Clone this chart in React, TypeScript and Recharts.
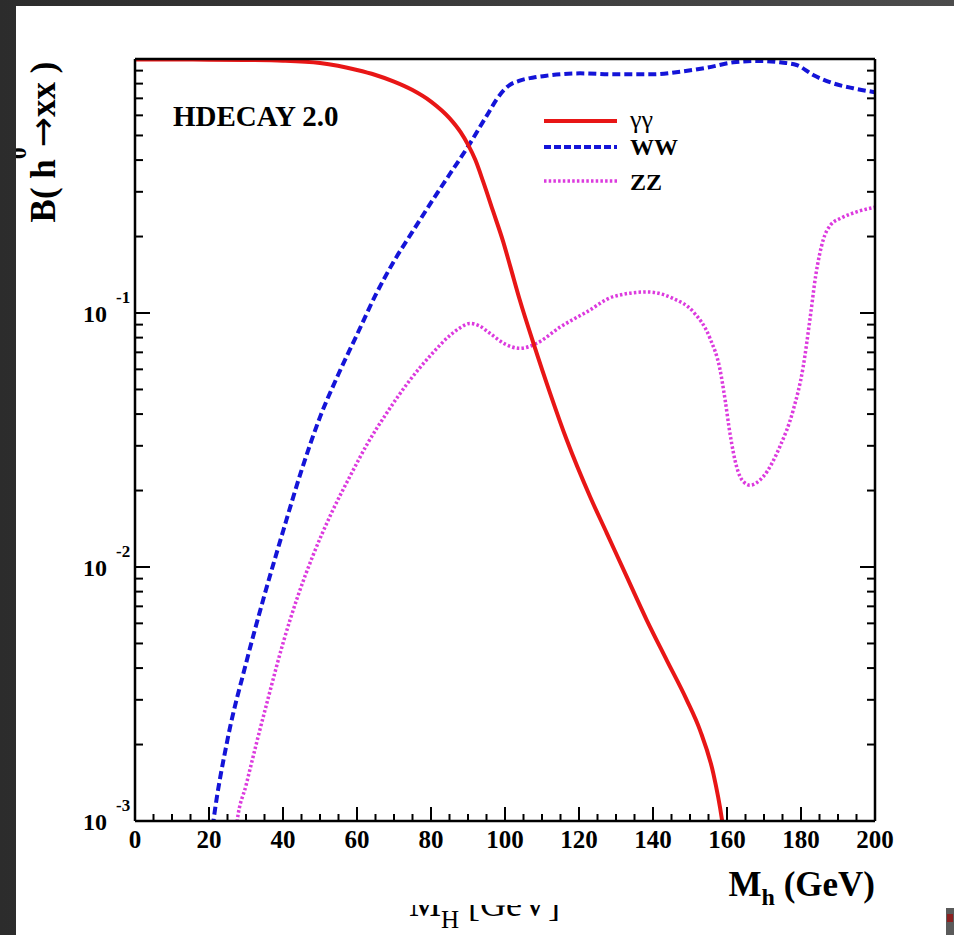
import { LineChart, Line, XAxis, YAxis } from 'recharts';

const SERIF = '"Liberation Serif", "DejaVu Serif", serif';

// branching ratios (M_h in GeV, B)
const gammaGamma = [
  { m: 0, b: 0.995 }, { m: 10, b: 0.995 }, { m: 20, b: 0.994 }, { m: 30, b: 0.991 },
  { m: 40, b: 0.985 }, { m: 50, b: 0.964 }, { m: 60, b: 0.905 }, { m: 65, b: 0.865 },
  { m: 70, b: 0.815 }, { m: 75, b: 0.755 }, { m: 80, b: 0.68 }, { m: 85, b: 0.585 },
  { m: 88, b: 0.515 }, { m: 90, b: 0.46 }, { m: 92, b: 0.4 }, { m: 94.1, b: 0.329 },
  { m: 96.8, b: 0.251 }, { m: 99.5, b: 0.191 }, { m: 101.4, b: 0.153 }, { m: 104, b: 0.1125 },
  { m: 107.7, b: 0.076 }, { m: 112.2, b: 0.0483 }, { m: 116.7, b: 0.0316 }, { m: 123, b: 0.0189 },
  { m: 127.5, b: 0.0136 }, { m: 132.9, b: 0.00916 }, { m: 138.3, b: 0.00618 }, { m: 143.7, b: 0.0043 },
  { m: 149.1, b: 0.003 }, { m: 152.7, b: 0.00228 }, { m: 156.3, b: 0.00154 }, { m: 158.6, b: 0.00102 },
  { m: 158.9, b: 0.00095 },
];

const wwPoints = [
  { m: 21, b: 0.00095 }, { m: 21.2, b: 0.001 }, { m: 25, b: 0.00209 }, { m: 30, b: 0.00417 },
  { m: 35, b: 0.00776 }, { m: 40, b: 0.0138 }, { m: 45, b: 0.024 }, { m: 50, b: 0.0389 },
  { m: 55, b: 0.0575 }, { m: 60, b: 0.0822 }, { m: 65, b: 0.1175 }, { m: 70, b: 0.16 },
  { m: 75, b: 0.209 }, { m: 80, b: 0.272 }, { m: 85, b: 0.351 }, { m: 90, b: 0.452 },
  { m: 95, b: 0.596 }, { m: 98.6, b: 0.722 }, { m: 101, b: 0.785 }, { m: 104, b: 0.822 },
  { m: 108, b: 0.847 }, { m: 111.3, b: 0.86 }, { m: 120.3, b: 0.878 }, { m: 129.3, b: 0.87 },
  { m: 140.1, b: 0.87 }, { m: 147.3, b: 0.891 }, { m: 154.5, b: 0.924 }, { m: 161.7, b: 0.97 },
  { m: 168, b: 0.982 }, { m: 174.3, b: 0.97 }, { m: 178.8, b: 0.947 }, { m: 183.3, b: 0.865 },
  { m: 188.7, b: 0.802 }, { m: 194.1, b: 0.767 }, { m: 200, b: 0.74 },
];

const zzPoints = [
  { m: 27.4, b: 0.00095 }, { m: 27.6, b: 0.001 }, { m: 30, b: 0.00138 }, { m: 33, b: 0.00207 },
  { m: 36, b: 0.00305 }, { m: 40, b: 0.00501 }, { m: 44, b: 0.00767 }, { m: 48, b: 0.011 },
  { m: 53, b: 0.0162 }, { m: 58, b: 0.0226 }, { m: 63, b: 0.0309 }, { m: 68, b: 0.0403 },
  { m: 74, b: 0.0537 }, { m: 80, b: 0.0684 }, { m: 85, b: 0.0813 }, { m: 88, b: 0.0877 },
  { m: 90.5, b: 0.091 }, { m: 93, b: 0.0891 }, { m: 95.9, b: 0.0832 }, { m: 100, b: 0.0755 },
  { m: 104, b: 0.0726 }, { m: 108.6, b: 0.076 }, { m: 114.9, b: 0.088 }, { m: 122.1, b: 0.101 },
  { m: 129.3, b: 0.116 }, { m: 138.3, b: 0.121 }, { m: 145.5, b: 0.114 }, { m: 150.9, b: 0.101 },
  { m: 155.4, b: 0.0795 }, { m: 158.1, b: 0.06 }, { m: 159.5, b: 0.0454 }, { m: 160.8, b: 0.0336 },
  { m: 162.6, b: 0.0248 }, { m: 164.4, b: 0.0217 }, { m: 166.2, b: 0.021 }, { m: 169.8, b: 0.0227 },
  { m: 174.3, b: 0.0298 }, { m: 177.9, b: 0.0415 }, { m: 180.6, b: 0.0615 }, { m: 182.4, b: 0.094 },
  { m: 184, b: 0.141 }, { m: 186, b: 0.194 }, { m: 188, b: 0.222 }, { m: 191, b: 0.237 },
  { m: 195, b: 0.25 }, { m: 200, b: 0.261 },
];

const massTicks = [
  0, 5, 10, 15, 20, 25, 30, 35, 40, 45, 50, 55, 60, 65, 70, 75, 80, 85, 90, 95, 100,
  105, 110, 115, 120, 125, 130, 135, 140, 145, 150, 155, 160, 165, 170, 175, 180, 185, 190, 195, 200,
];
const massLabels = [0, 20, 40, 60, 80, 100, 120, 140, 160, 180, 200];

const brTicks = [
  0.001, 0.002, 0.003, 0.004, 0.005, 0.006, 0.007, 0.008, 0.009,
  0.01, 0.02, 0.03, 0.04, 0.05, 0.06, 0.07, 0.08, 0.09,
  0.1, 0.2, 0.3, 0.4, 0.5, 0.6, 0.7, 0.8, 0.9, 1,
];
const brLabels = [
  { value: 0.001, exponent: '-3' },
  { value: 0.01, exponent: '-2' },
  { value: 0.1, exponent: '-1' },
];

const isDecade = (v: number) => {
  const lg = Math.log10(v);
  return Math.abs(lg - Math.round(lg)) < 1e-6;
};

const BottomTick = ({ x, y, payload }: any) => {
  const major = massLabels.includes(payload.value);
  return (
    <g>
      <line x1={x} y1={y} x2={x} y2={y - (major ? 14 : 7)} stroke="#000" strokeWidth={2} />
      {major && (
        <text x={x} y={y + 27} textAnchor="middle" fontFamily={SERIF} fontWeight="bold" fontSize={25} fill="#000">
          {payload.value}
        </text>
      )}
    </g>
  );
};

const TopTick = ({ x, y, payload }: any) => {
  const major = massLabels.includes(payload.value);
  return <line x1={x} y1={y} x2={x} y2={y + (major ? 14 : 7)} stroke="#000" strokeWidth={2} />;
};

const LeftTick = ({ x, y, payload }: any) => {
  const v = payload.value;
  const label = brLabels.find((l) => Math.abs(l.value - v) < 1e-9);
  return (
    <g>
      <line x1={x} y1={y} x2={x + (isDecade(v) ? 15 : 8)} y2={y} stroke="#000" strokeWidth={2} />
      {label && (
        <g fontFamily={SERIF} fontWeight="bold" fill="#000">
          <text x={x - 28} y={y + 9} textAnchor="end" fontSize={24}>10</text>
          <text x={x - 19} y={y - 10} textAnchor="start" fontSize={17}>{label.exponent}</text>
        </g>
      )}
    </g>
  );
};

const RightTick = ({ x, y, payload }: any) => (
  <line x1={x} y1={y} x2={x - (isDecade(payload.value) ? 15 : 8)} y2={y} stroke="#000" strokeWidth={2} />
);

const frame = { stroke: '#000', strokeWidth: 2.5 };

const App = () => {
  return (
    <div
      style={{
        position: 'absolute',
        left: 0,
        top: 0,
        width: 954,
        height: 935,
        background: 'linear-gradient(90deg, #2c2c2c 0%, #4c4c4c 100%)',
      }}
    >
      <div
        style={{
          position: 'absolute',
          left: 16,
          top: 6,
          width: 938,
          height: 929,
          background: '#fff',
          overflow: 'hidden',
        }}
      >
        <div style={{ position: 'absolute', left: -16, top: -6, width: 954, height: 935 }}>
          <LineChart width={954} height={935} margin={{ top: 49, right: 69, bottom: 74, left: 75 }}>
            <XAxis
              xAxisId={0}
              dataKey="m"
              type="number"
              domain={[0, 200]}
              allowDataOverflow
              ticks={massTicks}
              interval={0}
              height={40}
              tickSize={0}
              tickMargin={0}
              tickLine={false}
              axisLine={frame}
              tick={<BottomTick />}
              label={{
                content: () => (
                  <text x={875} y={896} textAnchor="end" fontFamily={SERIF} fontWeight="bold" fontSize={35} fill="#000">
                    M<tspan dy={9} fontSize={24}>h</tspan>
                    <tspan dy={-9}> (GeV)</tspan>
                  </text>
                ),
              }}
            />
            <XAxis
              xAxisId="top"
              orientation="top"
              type="number"
              domain={[0, 200]}
              allowDataOverflow
              ticks={massTicks}
              interval={0}
              height={10}
              tickSize={0}
              tickMargin={0}
              tickLine={false}
              axisLine={frame}
              tick={<TopTick />}
            />
            <YAxis
              yAxisId={0}
              scale="log"
              type="number"
              domain={[0.001, 1]}
              allowDataOverflow
              ticks={brTicks}
              interval={0}
              width={60}
              tickSize={0}
              tickMargin={0}
              tickLine={false}
              axisLine={frame}
              tick={<LeftTick />}
              label={{
                content: () => (
                  <text
                    transform="translate(55,142) rotate(-90)"
                    textAnchor="middle"
                    fontFamily={SERIF}
                    fontWeight="bold"
                    fontSize={35}
                    fill="#000"
                  >
                    B( h<tspan dy={-29} fontSize={24}>0</tspan>
                    <tspan dy={29} fontFamily='"DejaVu Sans", sans-serif' fontWeight="normal" fontSize={36}>→</tspan>
                    <tspan>xx )</tspan>
                  </text>
                ),
              }}
            />
            <YAxis
              yAxisId="right"
              orientation="right"
              scale="log"
              type="number"
              domain={[0.001, 1]}
              allowDataOverflow
              ticks={brTicks}
              interval={0}
              width={10}
              tickSize={0}
              tickMargin={0}
              tickLine={false}
              axisLine={frame}
              tick={<RightTick />}
            />
            <Line
              data={zzPoints}
              dataKey="b"
              type="monotone"
              stroke="#dc3ade"
              strokeWidth={3.5}
              strokeDasharray="2.5 2.2"
              dot={false}
              activeDot={false}
              isAnimationActive={false}
            />
            <Line
              data={wwPoints}
              dataKey="b"
              type="monotone"
              stroke="#1414d8"
              strokeWidth={4}
              strokeDasharray="8 4"
              dot={false}
              activeDot={false}
              isAnimationActive={false}
            />
            <Line
              data={gammaGamma}
              dataKey="b"
              type="monotone"
              stroke="#e81616"
              strokeWidth={4}
              dot={false}
              activeDot={false}
              isAnimationActive={false}
            />
          </LineChart>

          <div
            style={{
              position: 'absolute',
              left: 173,
              top: 99,
              fontFamily: SERIF,
              fontWeight: 'bold',
              fontSize: 29,
              lineHeight: '34px',
              color: '#000',
              whiteSpace: 'nowrap',
            }}
          >
            HDECAY 2.0
          </div>

          <svg style={{ position: 'absolute', left: 540, top: 105 }} width={160} height={95}>
            <line x1={4} y1={16} x2={77} y2={16} stroke="#e81616" strokeWidth={4} />
            <line x1={4} y1={42} x2={77} y2={42} stroke="#1414d8" strokeWidth={4} strokeDasharray="7 3" />
            <line x1={4} y1={76} x2={77} y2={76} stroke="#dc3ade" strokeWidth={3.5} strokeDasharray="2.5 2.2" />
            <text x={90} y={23} fontFamily={SERIF} fontSize={26} fill="#000">γγ</text>
            <text x={90} y={50} fontFamily={SERIF} fontWeight="bold" fontSize={24} fill="#000">WW</text>
            <text x={90} y={85} fontFamily={SERIF} fontWeight="bold" fontSize={24} fill="#000">ZZ</text>
          </svg>

          <svg style={{ position: 'absolute', left: 405, top: 905 }} width={160} height={30}>
            <text x={4} y={11} fontFamily={SERIF} fontSize={36} fill="#000">
              M<tspan dy={12} fontSize={25}>H</tspan>
              <tspan dy={-12}> [GeV]</tspan>
            </text>
          </svg>
        </div>
      </div>
      <div style={{ position: 'absolute', left: 946, top: 908, width: 8, height: 27, background: '#5a5a5a' }}>
        <div style={{ position: 'absolute', left: 1, top: 6, width: 6, height: 8, background: '#8a2020' }} />
      </div>
    </div>
  );
};

export default App;
